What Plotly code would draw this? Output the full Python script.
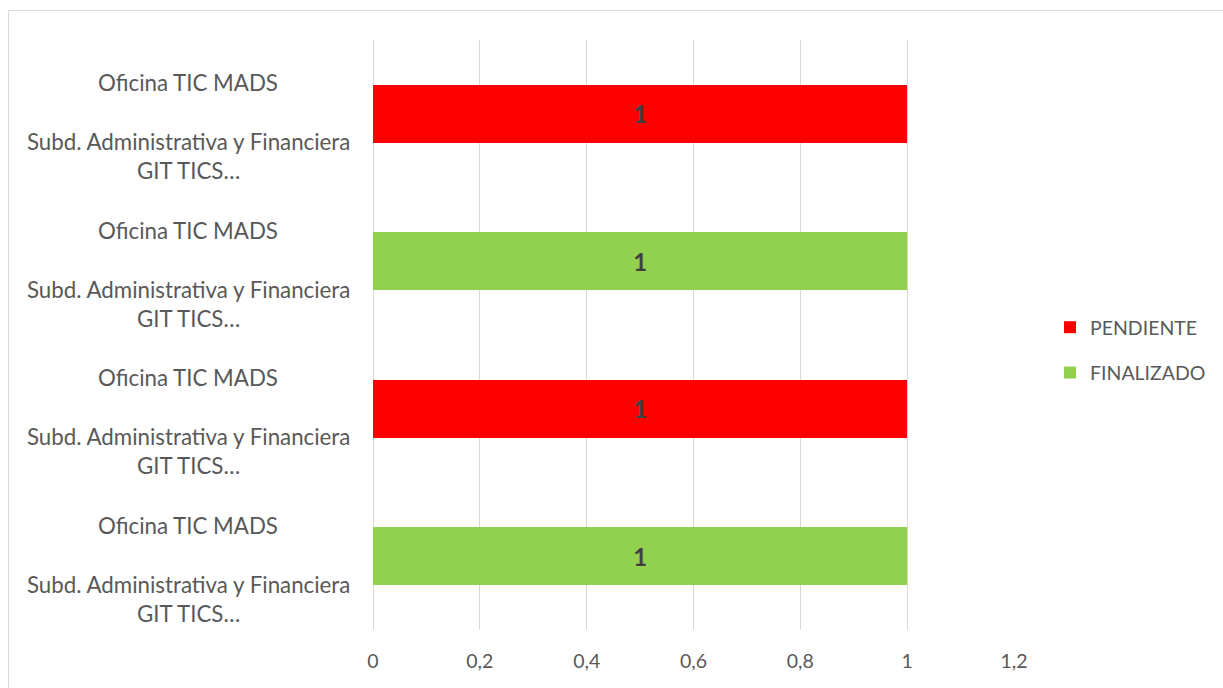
import plotly.graph_objects as go

# ---- data ----
row_top_labels = ["Oficina TIC MADS"] * 4
row_mid_labels = ["Subd. Administrativa y Financiera"] * 4
row_bot_labels = ["GIT TICS…"] * 4
rows = [0, 1, 2, 3]  # top to bottom

pend_rows = [0, 2]
pend_values = [1, 1]
fin_rows = [1, 3]
fin_values = [1, 1]

x_ticks = [0, 0.2, 0.4, 0.6, 0.8, 1, 1.2]

FONT = "Lato"
GRAY = "#595959"

W, H = 1223, 688
L, R, T, B = 373, 209, 40, 58
pw, ph = W - L - R, H - T - B

fig = go.Figure()
fig.add_trace(go.Bar(
    name="PENDIENTE", y=pend_rows, x=pend_values, orientation="h",
    marker=dict(color="#FF0000", line=dict(width=0)), width=0.39,
    texttemplate="%{x}", textposition="inside", insidetextanchor="middle",
    textfont=dict(family=FONT, size=24, color="#404040", weight="bold"),
    legendgroup="p",
))
fig.add_trace(go.Bar(
    name="FINALIZADO", y=fin_rows, x=fin_values, orientation="h",
    marker=dict(color="#92D050", line=dict(width=0)), width=0.39,
    texttemplate="%{x}", textposition="inside", insidetextanchor="middle",
    textfont=dict(family=FONT, size=24, color="#404040", weight="bold"),
    legendgroup="f",
))

# category labels (centered, multi-line as in source)
xc = (188 - L) / pw
for r, a, b, c in zip(rows, row_top_labels, row_mid_labels, row_bot_labels):
    for txt, off in ((a, -0.21), (b, 0.19), (c, 0.386)):
        fig.add_annotation(x=xc, xref="paper", y=r + off, yref="y", text=txt,
                           showarrow=False, xanchor="center", yanchor="middle",
                           font=dict(family=FONT, size=22.3, color=GRAY))

# outer chart border
fig.add_shape(type="rect", xref="paper", yref="paper",
              x0=(8.5 - L) / pw, x1=(1240 - L) / pw,
              y0=(H - B - 10.5) / ph, y1=(H - B - 700) / ph,
              line=dict(color="#D9D9D9", width=1), layer="below")

fig.update_layout(
    width=W, height=H,
    margin=dict(l=L, r=R, t=T, b=B),
    paper_bgcolor="white", plot_bgcolor="white",
    barmode="stack",
    separators=", ",
    font=dict(family=FONT, size=19.5, color=GRAY),
    xaxis=dict(range=[0, 1.2], tickvals=x_ticks, showgrid=True,
               gridcolor="#D9D9D9", gridwidth=1, zeroline=True,
               zerolinecolor="#D9D9D9", zerolinewidth=1, showline=False,
               ticks="", ticklabelstandoff=17,
               tickfont=dict(family=FONT, size=19.5, color=GRAY),
               fixedrange=True),
    yaxis=dict(range=[3.5, -0.5], showticklabels=False, showgrid=False,
               zeroline=False, showline=False, ticks="", fixedrange=True),
    legend=dict(xref="container", yref="container", x=1050 / W,
                y=1 - 350 / H, xanchor="left", yanchor="middle",
                traceorder="grouped", tracegroupgap=17,
                font=dict(family=FONT, size=19.5, color=GRAY)),
    showlegend=True,
)

fig.write_html("out.html", config={"displayModeBar": False},
               post_script="document.body.style.margin='0';"
                           "document.body.style.overflow='hidden';")
